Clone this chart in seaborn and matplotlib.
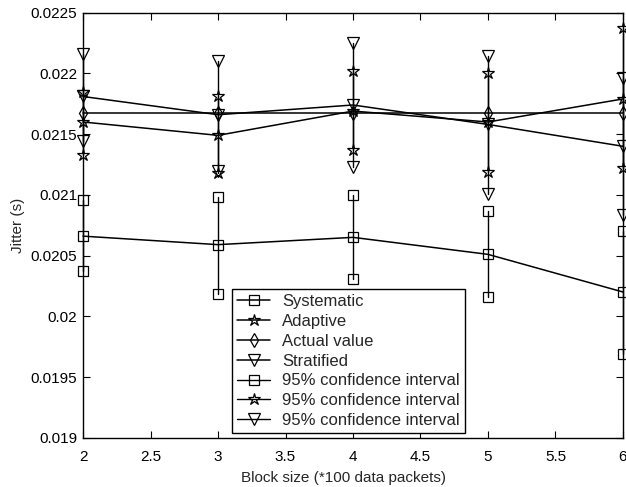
import matplotlib
matplotlib.use("Agg")
import matplotlib.pyplot as plt
import seaborn as sns
import pandas as pd

# Block sizes (*100 data packets)
block_size = [2, 3, 4, 5, 6]

# Mean jitter estimates (s)
systematic = [0.02066, 0.02059, 0.02065, 0.02051, 0.02020]
adaptive = [0.02160, 0.02149, 0.02169, 0.02160, 0.02179]
actual_value = [0.02167, 0.02167, 0.02167, 0.02167, 0.02167]
stratified = [0.02181, 0.02166, 0.02174, 0.02158, 0.02140]

# 95% confidence interval bounds
systematic_lo = [0.02037, 0.02018, 0.02031, 0.02016, 0.01969]
systematic_hi = [0.02096, 0.02098, 0.02100, 0.02087, 0.02070]
adaptive_lo = [0.02133, 0.02118, 0.02137, 0.02119, 0.02122]
adaptive_hi = [0.02185, 0.02181, 0.02202, 0.02200, 0.02237]
stratified_lo = [0.02144, 0.02120, 0.02123, 0.02101, 0.02083]
stratified_hi = [0.02216, 0.02210, 0.02225, 0.02214, 0.02196]

x_ticks = [2, 2.5, 3, 3.5, 4, 4.5, 5, 5.5, 6]
y_ticks = [0.019, 0.0195, 0.02, 0.0205, 0.021, 0.0215, 0.022, 0.0225]
y_tick_labels = ["0.019", "0.0195", "0.02", "0.0205", "0.021", "0.0215", "0.022", "0.0225"]

sns.set_style("ticks")
plt.rcParams["font.family"] = ["Liberation Sans", "DejaVu Sans"]
plt.rcParams["xtick.direction"] = "in"
plt.rcParams["ytick.direction"] = "in"

fig = plt.figure(figsize=(6.26, 4.87), dpi=100)
ax = fig.add_axes([0.1326, 0.1012, 0.8626, 0.8727])

means = pd.DataFrame({
    "block": block_size * 4,
    "jitter": systematic + adaptive + actual_value + stratified,
    "series": (["Systematic"] * 5 + ["Adaptive"] * 5
               + ["Actual value"] * 5 + ["Stratified"] * 5),
})

styles = {
    "Systematic": dict(marker="s", ms=7),
    "Adaptive": dict(marker="*", ms=9),
    "Actual value": dict(marker="d", ms=7.5),
    "Stratified": dict(marker="v", ms=9),
}

for name, st in styles.items():
    sub = means[means["series"] == name]
    sns.lineplot(data=sub, x="block", y="jitter", ax=ax, color="black",
                 linewidth=1.1, marker=st["marker"], markersize=st["ms"],
                 markerfacecolor="none", markeredgecolor="black",
                 markeredgewidth=0.9, label=name, clip_on=False, zorder=3)

ci_sets = [
    (systematic_lo, systematic_hi, "s", 7),
    (adaptive_lo, adaptive_hi, "*", 9),
    (stratified_lo, stratified_hi, "v", 9),
]
for lo, hi, mk, ms in ci_sets:
    for i, xv in enumerate(block_size):
        ax.plot([xv, xv], [lo[i], hi[i]], color="black", linewidth=1.0,
                marker=mk, markersize=ms, markerfacecolor="none",
                markeredgecolor="black", markeredgewidth=0.9,
                clip_on=False, zorder=3,
                label="95% confidence interval" if i == 0 else None)

ax.set_xlim(2, 6)
ax.set_ylim(0.019, 0.0225)
ax.set_xticks(x_ticks)
ax.set_xticklabels([f"{v:g}" for v in x_ticks])
ax.set_yticks(y_ticks)
ax.set_yticklabels(y_tick_labels)
ax.tick_params(axis="both", which="both", top=True, right=True,
               length=5, width=0.8, labelsize=11, colors="black")
ax.tick_params(axis="x", pad=9)
ax.tick_params(axis="y", pad=4)
for sp in ax.spines.values():
    sp.set_visible(True)
    sp.set_color("black")
    sp.set_linewidth(1.0)

ax.set_xlabel("Block size (*100 data packets)", fontsize=11)
ax.xaxis.set_label_coords(0.4815, -0.078)
ax.set_ylabel("Jitter (s)", fontsize=11, labelpad=4)

leg = ax.legend(loc="lower left", bbox_to_anchor=(0.276, 0.011),
                borderaxespad=0, fancybox=False, framealpha=1,
                edgecolor="black", fontsize=12, handlelength=2.0,
                labelspacing=0.29, borderpad=0.3, handletextpad=0.7)
leg.get_frame().set_linewidth(1.0)

fig.savefig("out.png", dpi=100)
